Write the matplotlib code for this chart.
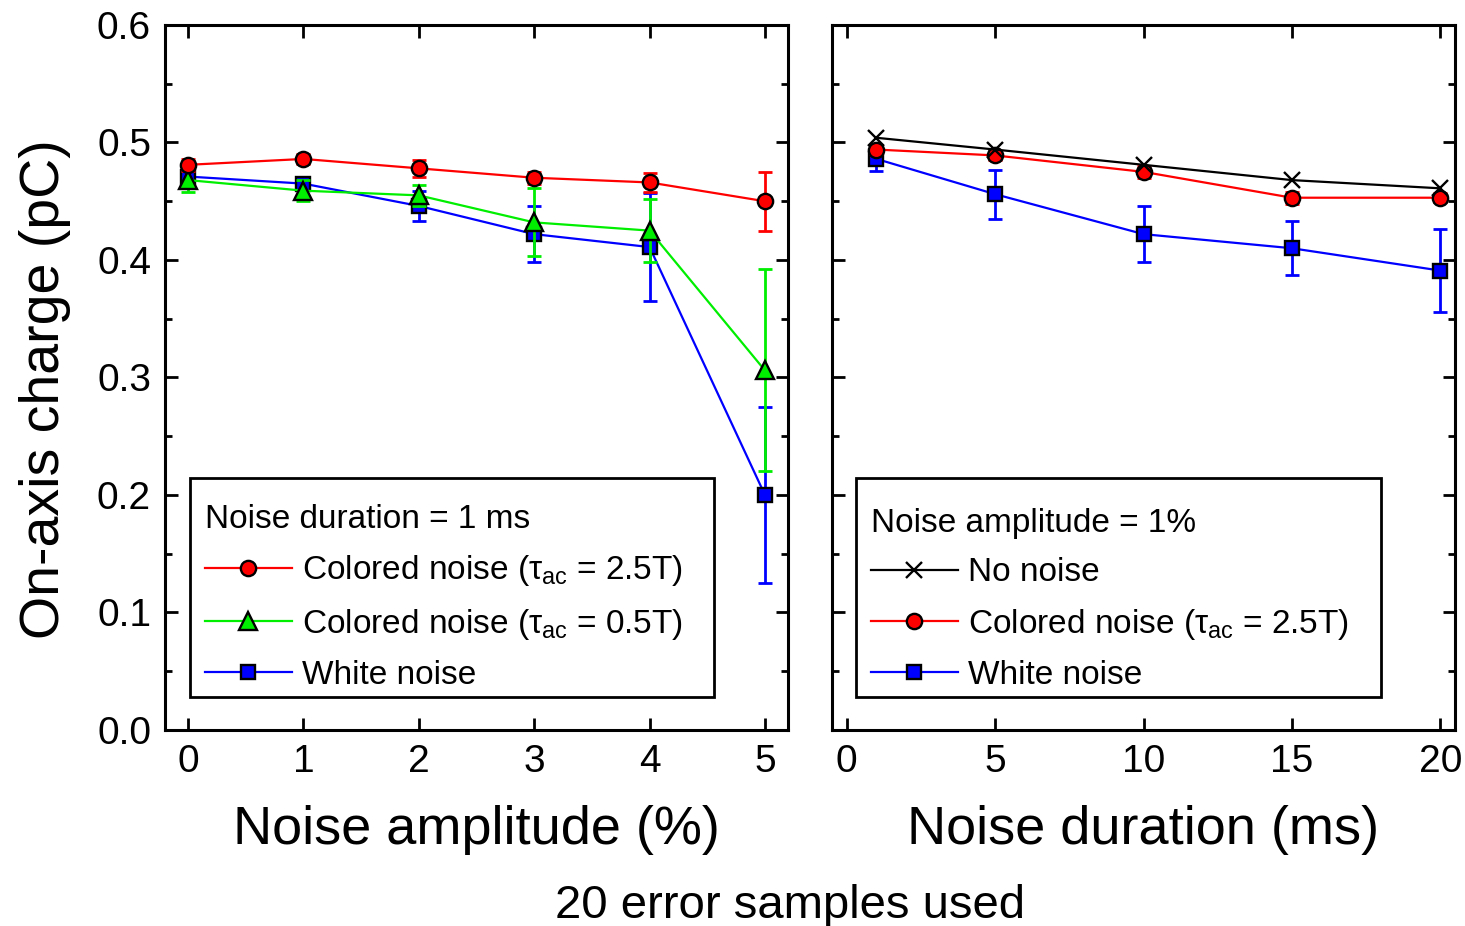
import matplotlib.pyplot as plt
from matplotlib.patches import Rectangle
from matplotlib.ticker import MultipleLocator

plt.rcParams['font.family'] = ['Liberation Sans', 'DejaVu Sans']
plt.rcParams['mathtext.fontset'] = 'custom'
plt.rcParams['mathtext.rm'] = 'Liberation Sans'
plt.rcParams['mathtext.it'] = 'Liberation Sans'

# Left panel: scan of noise amplitude (noise duration = 1 ms)
amp = [0, 1, 2, 3, 4, 5]
amp_col25 = [0.481, 0.486, 0.478, 0.470, 0.466, 0.450]
amp_col25_err = [0.005, 0.004, 0.007, 0.005, 0.008, 0.025]
amp_col05 = [0.468, 0.459, 0.455, 0.432, 0.425, 0.306]
amp_col05_err = [0.010, 0.009, 0.009, 0.029, 0.027, 0.086]
amp_white = [0.471, 0.465, 0.446, 0.422, 0.411, 0.200]
amp_white_err = [0.004, 0.004, 0.013, 0.024, 0.046, 0.075]

# Right panel: scan of noise duration (noise amplitude = 1%)
dur = [1, 5, 10, 15, 20]
dur_none = [0.504, 0.494, 0.481, 0.468, 0.461]
dur_col25 = [0.494, 0.489, 0.475, 0.453, 0.453]
dur_col25_err = [0.004, 0.004, 0.005, 0.005, 0.004]
dur_white = [0.486, 0.456, 0.422, 0.410, 0.391]
dur_white_err = [0.010, 0.021, 0.024, 0.023, 0.035]

lbl_col25 = r'Colored noise ($\tau_{\rm ac}$ = 2.5T)'
lbl_col05 = r'Colored noise ($\tau_{\rm ac}$ = 0.5T)'


def series(ax, x, y, err, color, marker, label, z, ms=11):
    if err is not None:
        ax.errorbar(x, y, yerr=err, fmt='none', ecolor=color, elinewidth=2,
                    capsize=5, capthick=2, zorder=z)
    ax.plot(x, y, color=color, lw=1.6, marker=marker, ms=ms, mfc=color,
            mec='black', mew=1.7, label=label, zorder=z + 0.1)


def style(ax):
    for s in ax.spines.values():
        s.set_linewidth(2.2)
    ax.yaxis.set_major_locator(MultipleLocator(0.1))
    ax.yaxis.set_minor_locator(MultipleLocator(0.05))
    ax.tick_params(which='both', direction='in', top=True, right=True, width=2)
    ax.tick_params(which='major', length=9, labelsize=28, pad=10)
    ax.tick_params(which='minor', length=5)
    ax.set_ylim(0, 0.6)


def legend(ax, title, box_x0, box_x1, text_x0):
    # white box drawn separately, legend entries placed inside it
    ax.add_patch(Rectangle((box_x0, 0.047), box_x1 - box_x0, 0.3105,
                           transform=ax.transAxes, facecolor='white',
                           edgecolor='black', lw=2, zorder=6))
    h, l = ax.get_legend_handles_labels()
    leg = ax.legend(h[::-1], l[::-1], title=title, title_fontsize=24,
                    fontsize=24, alignment='left', loc='lower left',
                    bbox_to_anchor=(text_x0, 0.0553), borderaxespad=0,
                    borderpad=0, frameon=False, handlelength=2.6,
                    handletextpad=0.3, labelspacing=0.55)
    leg.set_zorder(7)


fig = plt.figure(figsize=(14.65, 9.26), dpi=100)
ax1 = fig.add_axes([0.1126, 0.2117, 0.4253, 0.7613])
ax2 = fig.add_axes([0.5679, 0.2117, 0.4253, 0.7613])

# 1) amplitude scan
series(ax1, amp, amp_white, amp_white_err, 'blue', 's', 'White noise', 2, ms=10)
series(ax1, amp, amp_col05, amp_col05_err, '#00ee00', '^', lbl_col05, 2.3, ms=12.5)
series(ax1, amp, amp_col25, amp_col25_err, 'red', 'o', lbl_col25, 2.6)
style(ax1)
ax1.set_xlim(-0.2, 5.2)
ax1.set_xticks(range(0, 6))
ax1.set_xlabel('Noise amplitude (%)', fontsize=39, labelpad=18)
ax1.set_ylabel('On-axis charge (pC)', fontsize=40)
ax1.yaxis.set_label_coords(-0.150, 0.484)
legend(ax1, 'Noise duration = 1 ms', 0.040, 0.881, 0.0642)

# 2) duration scan
series(ax2, dur, dur_white, dur_white_err, 'blue', 's', 'White noise', 2, ms=10)
series(ax2, dur, dur_col25, dur_col25_err, 'red', 'o', lbl_col25, 2.3)
series(ax2, dur, dur_none, None, 'black', 'x', 'No noise', 2.6)
style(ax2)
ax2.tick_params(labelleft=False)
ax2.set_xlim(-0.5, 20.5)
ax2.set_xticks([0, 5, 10, 15, 20])
ax2.set_xlabel('Noise duration (ms)', fontsize=39, labelpad=18)
legend(ax2, 'Noise amplitude = 1%', 0.0385, 0.8812, 0.0626)

fig.text(0.539, 0.009, '20 error samples used', fontsize=34, ha='center')

fig.savefig('out.png', dpi=100)
